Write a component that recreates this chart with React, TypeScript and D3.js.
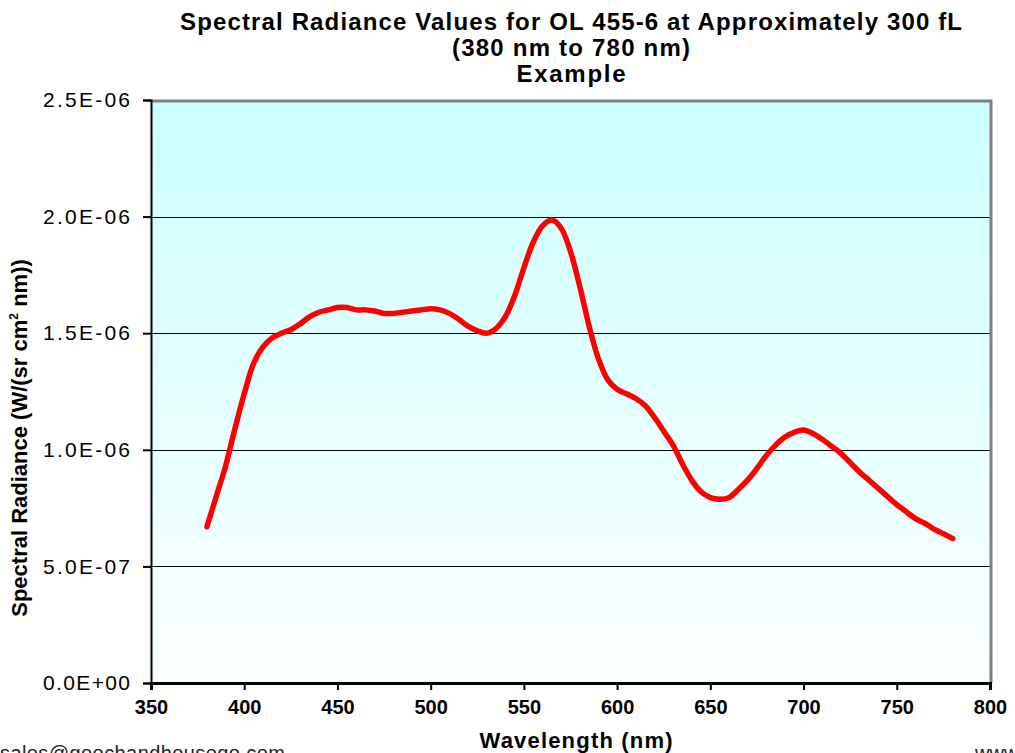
import React, { useEffect, useRef } from "react";
import * as d3 from "d3";

// wavelengths in nm, 5 nm steps
const wavelengths: number[] = d3.range(380, 781, 5);

// spectral radiance, in units of 1E-06 W/(sr cm2 nm)
const radiance: number[] = [
  0.67, 0.8, 0.93, 1.09, 1.24, 1.37, 1.44, 1.48, 1.5, 1.515,
  1.54, 1.57, 1.59, 1.6, 1.61, 1.61, 1.6, 1.6, 1.595, 1.585,
  1.585, 1.59, 1.595, 1.6, 1.605, 1.6, 1.585, 1.56, 1.53, 1.51,
  1.5, 1.52, 1.57, 1.66, 1.78, 1.89, 1.96, 1.985, 1.95, 1.85,
  1.7, 1.53, 1.39, 1.3, 1.26, 1.24, 1.22, 1.19, 1.14, 1.08,
  1.02, 0.94, 0.87, 0.82, 0.795, 0.788, 0.795, 0.83, 0.87, 0.92,
  0.975, 1.02, 1.055, 1.075, 1.085, 1.07, 1.045, 1.015, 0.985, 0.945,
  0.905, 0.87, 0.835, 0.8, 0.765, 0.735, 0.705, 0.685, 0.66, 0.64,
  0.62,
];

const xTicks = [350, 400, 450, 500, 550, 600, 650, 700, 750, 800];
const yTicks = [0, 0.5e-6, 1e-6, 1.5e-6, 2e-6, 2.5e-6];
const yTickLabels = ["0.0E+00", "5.0E-07", "1.0E-06", "1.5E-06", "2.0E-06", "2.5E-06"];
const titleLines = [
  "Spectral Radiance Values for OL 455-6 at Approximately 300 fL",
  "(380 nm to 780 nm)",
  "Example",
];
// widths the title lines take in the original (Excel renders wide)
const titleWidths = [782, 238, 109];

const W = 1015;
const H = 753;
const margin = { top: 100, right: 25, bottom: 70, left: 151 };
const FONT = "'Liberation Sans', Arial, sans-serif";

const App = () => {
  const svgRef = useRef<SVGSVGElement>(null);

  useEffect(() => {
    const svg = d3.select(svgRef.current);
    svg.selectAll("*").remove();

    const x = d3.scaleLinear().domain([350, 800]).range([margin.left, W - margin.right]);
    const y = d3.scaleLinear().domain([0, 2.5e-6]).range([H - margin.bottom, margin.top]);

    // ----- background gradient
    const grad = svg
      .append("defs")
      .append("linearGradient")
      .attr("id", "bg")
      .attr("x1", 0)
      .attr("y1", 0)
      .attr("x2", 0)
      .attr("y2", 1);
    grad.append("stop").attr("offset", "0%").attr("stop-color", "#ccffff");
    grad.append("stop").attr("offset", "100%").attr("stop-color", "#fbffff");

    svg
      .append("rect")
      .attr("x", x(350))
      .attr("y", y(2.5e-6))
      .attr("width", x(800) - x(350))
      .attr("height", y(0) - y(2.5e-6))
      .attr("fill", "url(#bg)");

    // ----- grid lines
    svg
      .append("g")
      .selectAll("line")
      .data(yTicks.slice(1, -1))
      .join("line")
      .attr("x1", x(350))
      .attr("x2", x(800))
      .attr("y1", (d) => Math.round(y(d)) + 0.5)
      .attr("y2", (d) => Math.round(y(d)) + 0.5)
      .attr("stroke", "#000")
      .attr("stroke-width", 1);

    // ----- top / right border
    svg
      .append("path")
      .attr("d", `M${x(350)},${y(2.5e-6) + 1} H${x(800) + 1} V${y(0)}`)
      .attr("fill", "none")
      .attr("stroke", "#808080")
      .attr("stroke-width", 3);

    // ----- axes
    const yAxis = svg
      .append("g")
      .attr("transform", `translate(${x(350)},0)`)
      .call(
        d3
          .axisLeft(y)
          .tickValues(yTicks)
          .tickSize(8)
          .tickPadding(13)
          .tickFormat((_, i) => yTickLabels[i])
      );
    yAxis.select(".domain").attr("stroke", "#000").attr("stroke-width", 2);
    yAxis.selectAll(".tick line").attr("stroke", "#000").attr("stroke-width", 2);
    yAxis
      .selectAll(".tick text")
      .attr("font-family", FONT)
      .attr("font-size", 21)
      .attr("fill", "#000")
      .attr("textLength", 87)
      .attr("lengthAdjust", "spacing");

    const xAxis = svg
      .append("g")
      .attr("transform", `translate(0,${y(0)})`)
      .call(d3.axisBottom(x).tickValues(xTicks).tickSize(7).tickPadding(8).tickFormat(d3.format("d")));
    xAxis.select(".domain").attr("stroke", "#000").attr("stroke-width", 3);
    xAxis.selectAll(".tick line").attr("stroke", "#000").attr("stroke-width", 2);
    xAxis
      .selectAll(".tick text")
      .attr("font-family", FONT)
      .attr("font-size", 20)
      .attr("font-weight", "bold")
      .attr("fill", "#000")
      .attr("dy", "0.8em");

    // ----- data line
    const line = d3
      .line<number>()
      .x((_, i) => x(wavelengths[i]))
      .y((d) => y(d * 1e-6))
      .curve(d3.curveCatmullRom);

    svg
      .append("path")
      .datum(radiance)
      .attr("d", line)
      .attr("fill", "none")
      .attr("stroke", "#ff0000")
      .attr("stroke-width", 5.5)
      .attr("stroke-linejoin", "round")
      .attr("stroke-linecap", "round");

    // ----- titles
    svg
      .append("g")
      .selectAll("text")
      .data(titleLines)
      .join("text")
      .attr("x", 571)
      .attr("y", (_, i) => 30 + i * 26)
      .attr("text-anchor", "middle")
      .attr("font-family", FONT)
      .attr("font-weight", "bold")
      .attr("font-size", 24)
      .attr("textLength", (_, i) => titleWidths[i])
      .attr("lengthAdjust", "spacing")
      .text((d) => d);

    svg
      .append("text")
      .attr("x", 576)
      .attr("y", 748)
      .attr("text-anchor", "middle")
      .attr("font-family", FONT)
      .attr("font-weight", "bold")
      .attr("font-size", 22)
      .attr("textLength", 193)
      .attr("lengthAdjust", "spacing")
      .text("Wavelength (nm)");

    const yTitle = svg
      .append("text")
      .attr("transform", `translate(27,438) rotate(-90)`)
      .attr("text-anchor", "middle")
      .attr("font-family", FONT)
      .attr("font-weight", "bold")
      .attr("font-size", 22);
    yTitle.append("tspan").text("Spectral Radiance (W/(sr cm");
    yTitle.append("tspan").attr("font-size", 12).attr("dy", -9).text("2");
    yTitle.append("tspan").attr("dy", 9).text(" nm))");

    // ----- footer (clipped by page edge, as in the original)
    svg
      .append("text")
      .attr("x", 0)
      .attr("y", 760)
      .attr("font-family", FONT)
      .attr("font-size", 20)
      .attr("fill", "#222")
      .attr("textLength", 285)
      .attr("lengthAdjust", "spacing")
      .text("sales@goochandhousego.com");
    svg
      .append("text")
      .attr("x", 975)
      .attr("y", 760)
      .attr("font-family", FONT)
      .attr("font-size", 20)
      .attr("fill", "#222")
      .text("www.goochandhousego.com");
  }, []);

  return (
    <svg
      ref={svgRef}
      width={W}
      height={H}
      style={{ position: "absolute", left: 0, top: 0, background: "#fff" }}
    />
  );
};

export default App;
